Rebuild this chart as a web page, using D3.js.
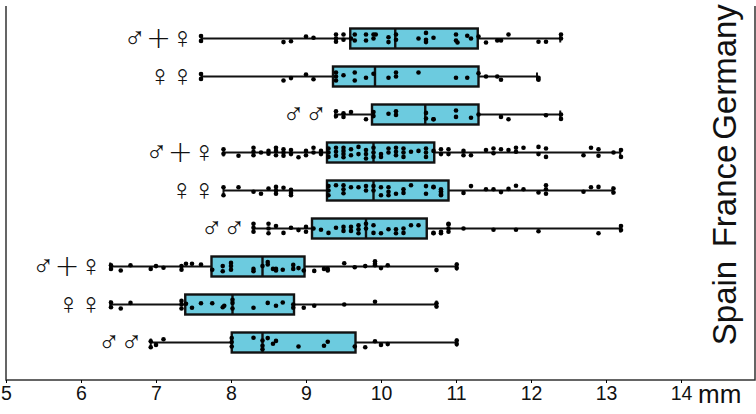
<!DOCTYPE html>
<html>
<head>
<meta charset="utf-8">
<script src="https://cdn.jsdelivr.net/npm/d3@7"></script>
<style>
body { margin: 0; background: #fff; }
text { font-family: "Liberation Sans", Arial, sans-serif; fill: #111; }
</style>
</head>
<body>
<svg id="render" width="756" height="414"></svg>
<script>
const xTicks = [5, 6, 7, 8, 9, 10, 11, 12, 13, 14];
const countries = ["Germany", "France", "Spain"];
const groupLabels = ["♂+♀", "♀♀", "♂♂", "♂+♀", "♀♀", "♂♂", "♂+♀", "♀♀", "♂♂"];

// low, q1, median, q3, high
const boxStats = [
    [7.61, 9.59, 10.19, 11.29, 12.39],
    [7.61, 9.36, 9.92, 11.30, 12.08],
    [9.39, 9.88, 10.59, 11.30, 12.39],
    [7.90, 9.28, 9.90, 10.71, 13.19],
    [7.90, 9.28, 9.90, 10.90, 13.09],
    [8.30, 9.08, 9.80, 10.61, 13.19],
    [6.39, 7.74, 8.42, 8.98, 11.01],
    [6.39, 7.39, 8.02, 8.84, 10.74],
    [6.93, 8.01, 8.42, 9.66, 11.01]
];

// points are [value, lane], lane is the sideways jitter of the dot
const germanyBoth = [[7.6,-.6],[7.6,.6],[8.7,.9],[8.8,.7],[9,-.5],[9.1,-.2],[9.4,-1],[9.4,0],[9.4,.8],[9.5,-1],[9.5,.3],[9.6,0],[9.65,-1],[9.65,.5],[9.8,-1],[9.8,.5],[9.9,-1],[9.93,-1],[9.9,0],[10.1,-.3],[10.1,.9],[10.2,-1],[10.2,.3],[10.5,0],[10.6,-1.4],[10.6,.3],[10.6,.9],[10.7,-.2],[11,-1],[11,.5],[11.02,1],[11.15,-.7],[11.2,0],[11.3,-.5],[11.4,1],[11.55,.5],[11.6,.5],[11.7,-1],[12.1,.8],[12.2,.8],[12.4,-1],[12.4,0]];
const germanyFemale = [[7.6,-.6],[7.6,.6],[8.7,1],[8.8,.4],[9,-.5],[9.1,.7],[9.4,-1],[9.4,0],[9.4,1],[9.5,-.3],[9.65,-1],[9.65,1],[9.8,.3],[9.9,-.7],[10.1,.3],[10.2,-1],[10.2,0],[10.5,-1],[11,.3],[11.15,.3],[11.3,-.8],[11.4,0],[11.55,0],[11.6,.8],[12.1,.3],[12.1,.8]];
const germanyMale = [[9.4,-.8],[9.4,.4],[9.5,-.3],[9.5,.6],[9.6,-.6],[9.8,1.2],[9.9,-.6],[9.9,.4],[10.1,-.2],[10.2,-.8],[10.2,.1],[10.6,-.4],[10.6,1],[10.7,1.2],[10.7,1.2],[11,-1],[11,.6],[11.2,.8],[11.3,0],[11.6,.6],[11.7,1.2],[12.2,.2],[12.4,0],[12.4,1.1]];
const franceBoth = [[7.9,-.8],[7.9,.3],[8.1,.8],[8.3,-1.2],[8.3,-.2],[8.3,.7],[8.4,0],[8.5,-.4],[8.5,.3],[8.6,-1.2],[8.6,-.4],[8.6,.7],[8.7,-.8],[8.7,0],[8.7,.8],[8.8,-.6],[8.8,.4],[8.9,1.2],[9,-.4],[9,.7],[9.1,-1.2],[9.1,0],[9.2,-.4],[9.2,.4],[9.3,-1],[9.3,0],[9.3,1.1],[9.4,-1.2],[9.4,-.2],[9.4,.8],[9.5,-1.2],[9.5,-.4],[9.5,.4],[9.5,1.2],[9.6,-.8],[9.6,.7],[9.7,-1.4],[9.7,.4],[9.8,-.6],[9.8,.4],[9.8,1.5],[9.9,-1.2],[9.9,0],[9.9,1.1],[10,.4],[10,1.1],[10.1,-1],[10.1,0],[10.2,-1.2],[10.2,-.2],[10.2,.7],[10.3,-1],[10.3,0],[10.3,1.1],[10.4,-.2],[10.5,-.4],[10.6,-1],[10.6,0],[10.6,1.1],[10.7,-.4],[10.8,-.8],[10.8,.4],[10.9,-.8],[10.9,.4],[11.1,-.4],[11.1,.7],[11.2,.7],[11.4,-.6],[11.5,-1],[11.5,.2],[11.6,-.8],[11.7,-.6],[11.8,-1.2],[11.8,-.2],[11.9,-1.2],[12.1,-1.4],[12.1,.4],[12.2,-1],[12.2,1.1],[12.7,.7],[12.8,-1.2],[12.9,-.8],[12.9,.8],[13.1,0],[13.2,-.6],[13.2,1.1]];
const franceFemale = [[7.9,-.8],[7.9,1.2],[8.1,-.8],[8.3,.3],[8.4,.8],[8.5,-.5],[8.6,-.9],[8.6,0],[8.6,.8],[8.7,-.7],[8.8,-.2],[8.8,.6],[8.8,1.2],[9.3,-1.1],[9.3,0],[9.3,1.2],[9.4,-1.3],[9.5,-1.3],[9.5,-.3],[9.5,.7],[9.6,-.8],[9.7,-.8],[9.8,-1.1],[9.8,0],[9.9,-1.1],[9.9,0],[10,-.8],[10,1.2],[10.1,-.8],[10.1,.3],[10.1,1.2],[10.2,.8],[10.3,-.3],[10.3,.6],[10.4,-1.3],[10.6,-1.1],[10.6,.8],[10.7,-.8],[10.8,-.3],[10.8,.6],[10.8,1.2],[10.7,-.9],[10.8,.2],[10.8,1],[11.1,.6],[11.2,-1.1],[11.4,-.3],[11.5,-.3],[11.6,.4],[11.7,-.4],[11.8,-1.2],[11.9,-.3],[12.1,.5],[12.2,-1.3],[12.2,-.3],[12.2,.8],[12.7,.3],[12.8,-.8],[12.9,-.9],[13.1,-.5],[13.1,.5]];
const franceMale = [[8.3,-1.2],[8.3,-.2],[8.3,.8],[8.5,-1.2],[8.5,0],[8.5,1.2],[8.6,-.6],[8.7,1.1],[8.8,-.2],[8.9,.4],[9,-.4],[9,.8],[9.1,0],[9.2,.3],[9.3,1.1],[9.4,-.2],[9.5,-.4],[9.5,.6],[9.6,-.4],[9.6,.6],[9.7,-.8],[9.7,.2],[9.7,1.2],[9.8,-1.2],[9.8,0],[9.9,-.8],[9.9,1.1],[10,1.2],[10.1,.2],[10.2,.2],[10.2,1.2],[10.3,0],[10.3,1.1],[10.4,-.8],[10.5,-.8],[10.7,1.2],[10.8,.8],[10.9,-1],[10.9,.8],[10.7,1.1],[10.8,1.2],[10.9,-1.2],[10.9,0],[11.1,0],[11.5,.3],[11.8,.3],[12.1,.7],[12.9,1.2],[13.2,-.6],[13.2,.4]];
const spainBoth = [[6.4,-.3],[6.4,.6],[6.53,1],[6.66,-.3],[6.93,.6],[7,-.1],[7.1,.3],[7.34,-.1],[7.34,.8],[7.4,-.7],[7.48,-.7],[7.6,-.5],[7.75,.8],[7.89,-.1],[7.89,1.2],[8,-.9],[8,-.1],[8,.8],[8.3,.6],[8.3,1.2],[8.42,-.1],[8.49,-1.1],[8.49,-.5],[8.56,.6],[8.6,.6],[8.6,1],[8.69,.8],[8.83,-.4],[8.83,.6],[8.9,.4],[8.97,1],[9.11,1.1],[9.24,.6],[9.29,.6],[9.29,1],[9.51,-.8],[9.65,.2],[9.79,-.1],[9.92,-1.3],[9.92,-.7],[9.92,-.3],[10,.4],[10.09,-.3],[10.74,.9],[11.01,-.5],[11.01,.4]];
const spainFemale = [[6.4,-.5],[6.4,.7],[6.53,1],[6.66,-.4],[7.34,-.9],[7.34,0],[7.34,1],[7.4,-.2],[7.48,.8],[7.6,-.3],[7.75,-.3],[7.89,.7],[7.91,.3],[8.02,-1.2],[8.02,-.4],[8.02,1],[8.3,.8],[8.49,-.4],[8.6,.3],[8.69,-.5],[8.83,0],[8.83,.8],[8.97,.8],[9.11,.3],[9.51,0],[9.92,-.7],[10.74,-.3],[10.74,.5]];
const spainMale = [[6.93,-.3],[6.93,1.2],[7,.6],[7.1,-.8],[8.01,-1.1],[8.01,-.1],[8.01,1],[8.3,-1.2],[8.42,-.5],[8.42,.8],[8.42,1.7],[8.49,-1.1],[8.56,.3],[8.6,-.4],[8.9,1],[9.24,.8],[9.29,-.2],[9.65,1],[9.79,1.2],[9.92,-.3],[10,.6],[10.09,.4],[11.01,-.5],[11.01,.4]];
const groupPoints = [germanyBoth, germanyFemale, germanyMale, franceBoth, franceFemale, franceMale, spainBoth, spainFemale, spainMale];

const svg = d3.select("svg#render");

const x = d3.scaleLinear().domain([5, 14]).range([6, 681]);
const y = d3.scaleBand().domain(d3.range(9)).range([19.5, 361.5]);
const lane = d3.scaleLinear().domain([-1, 1]).range([-4, 4]);

// frame
svg.append("path")
    .attr("d", "M6,6V380H755V6")
    .attr("fill", "none")
    .attr("stroke", "#333")
    .attr("stroke-width", 1.5);

const xAxis = svg.append("g")
    .attr("transform", "translate(0,380)")
    .call(d3.axisBottom(x).tickValues(xTicks).tickSize(3).tickFormat(d3.format("d")));
xAxis.select(".domain").remove();
xAxis.selectAll("text")
    .attr("y", 6)
    .attr("font-size", 19.5);

svg.append("text")
    .attr("x", 698)
    .attr("y", 403)
    .attr("font-size", 26)
    .text("mm");

// country names
svg.selectAll(".country")
    .data(countries)
    .enter()
    .append("text")
    .attr("class", "country")
    .attr("text-anchor", "middle")
    .attr("font-size", 33)
    .attr("transform", (d, i) => `translate(736,${[72, 196, 303][i]}) rotate(-90)`)
    .text(d => d);

const groups = svg.selectAll(".group")
    .data(d3.range(9))
    .enter()
    .append("g")
    .attr("class", "group")
    .attr("transform", i => `translate(0,${y(i) + y.bandwidth() / 2})`);

// whisker
groups.append("line")
    .attr("x1", i => x(boxStats[i][0]))
    .attr("x2", i => x(boxStats[i][4]))
    .attr("stroke", "#111")
    .attr("stroke-width", 2.2);

groups.selectAll(".cap")
    .data(i => [boxStats[i][0], boxStats[i][4]])
    .enter()
    .append("line")
    .attr("class", "cap")
    .attr("x1", d => x(d))
    .attr("x2", d => x(d))
    .attr("y1", -4)
    .attr("y2", 4)
    .attr("stroke", "#111")
    .attr("stroke-width", 2);

// box
groups.append("rect")
    .attr("x", i => x(boxStats[i][1]))
    .attr("width", i => x(boxStats[i][3]) - x(boxStats[i][1]))
    .attr("y", -10)
    .attr("height", 20)
    .attr("fill", "#6ccbdf")
    .attr("stroke", "#111")
    .attr("stroke-width", 2.4);

groups.append("line")
    .attr("x1", i => x(boxStats[i][2]))
    .attr("x2", i => x(boxStats[i][2]))
    .attr("y1", -10)
    .attr("y2", 10)
    .attr("stroke", "#111")
    .attr("stroke-width", 2.4);

// dots
groups.selectAll(".dot")
    .data(i => groupPoints[i])
    .enter()
    .append("circle")
    .attr("class", "dot")
    .attr("cx", d => x(d[0]))
    .attr("cy", d => lane(d[1]))
    .attr("r", 2.3)
    .attr("fill", "#000");

// sex labels
groups.append("text")
    .attr("x", i => x(boxStats[i][0]) - 8)
    .attr("y", 9)
    .attr("text-anchor", "end")
    .attr("font-size", 30)
    .style("font-family", "'DejaVu Sans'")
    .style("font-weight", 200)
    .text(i => groupLabels[i]);
</script>
</body>
</html>
